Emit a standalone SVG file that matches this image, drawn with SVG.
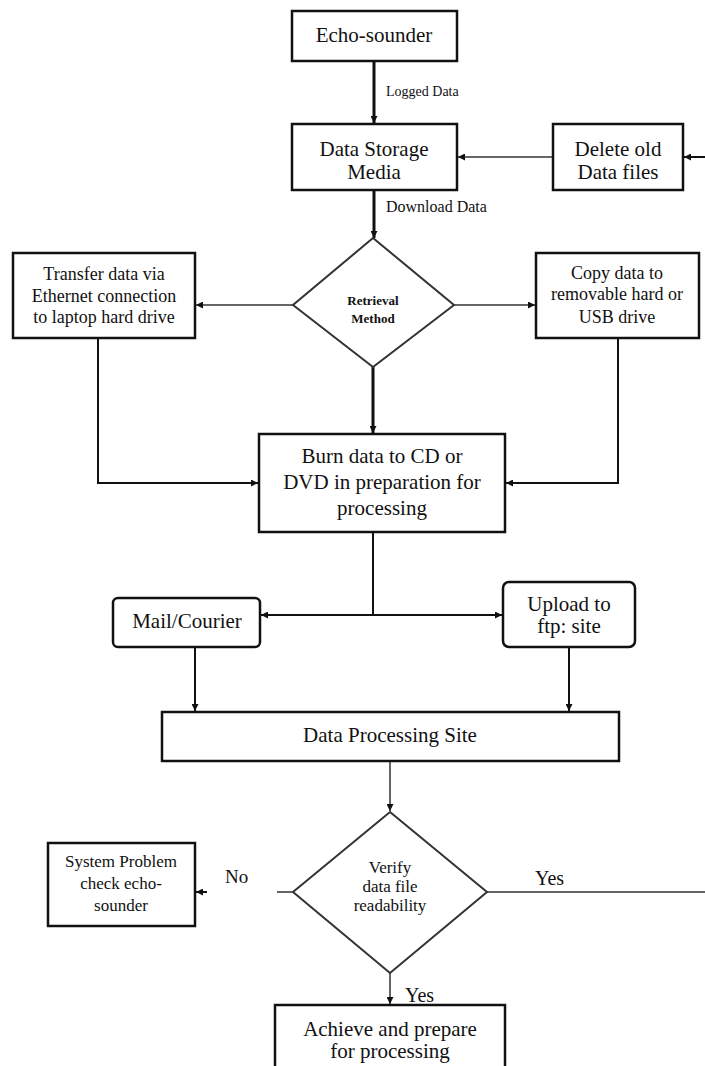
<svg xmlns="http://www.w3.org/2000/svg" width="705" height="1066" viewBox="0 0 705 1066">
<style>
.box{fill:#fff;stroke:#111;stroke-width:2.5}
.dia{fill:#fff;stroke:#333;stroke-width:2}
.t{font-family:'Liberation Serif','DejaVu Serif','Noto Serif',serif;fill:#111;text-anchor:middle}
.l{font-family:'Liberation Serif','DejaVu Serif','Noto Serif',serif;fill:#111}
.c{fill:none;stroke:#111;stroke-width:2}
.ck{fill:none;stroke:#111;stroke-width:3}
.cg{fill:none;stroke:#666;stroke-width:2}
</style>
<defs>
<marker id="ah" viewBox="0 0 10 10" refX="10" refY="5" markerWidth="7" markerHeight="7" markerUnits="userSpaceOnUse" orient="auto"><path d="M0,0 L10,5 L0,10 z" fill="#111"/></marker>
</defs>
<rect width="705" height="1066" fill="#fff"/>
<g id="connectors">
<path class="ck" d="M374,61 V123" marker-end="url(#ah)"/>
<path class="ck" d="M374,190 V238" marker-end="url(#ah)"/>
<path class="cg" d="M553,157 H458" marker-end="url(#ah)"/>
<path class="c" d="M705,157 H684" marker-end="url(#ah)"/>
<path class="cg" d="M293,305 H196" marker-end="url(#ah)"/>
<path class="cg" d="M454,305 H535" marker-end="url(#ah)"/>
<path class="ck" d="M373,367 V433" marker-end="url(#ah)"/>
<path class="c" d="M98,338 V483 H258" marker-end="url(#ah)"/>
<path class="c" d="M618,338 V483 H506" marker-end="url(#ah)"/>
<path class="c" d="M373,532 V615"/>
<path class="c" d="M373,615 H261" marker-end="url(#ah)"/>
<path class="c" d="M373,615 H502" marker-end="url(#ah)"/>
<path class="c" d="M195,647 V711" marker-end="url(#ah)"/>
<path class="c" d="M569,647 V711" marker-end="url(#ah)"/>
<path class="cg" d="M390,761 V811" marker-end="url(#ah)"/>
<path class="cg" d="M293,892 H277"/>
<path class="c" d="M207,892 H196" marker-end="url(#ah)"/>
<path class="cg" d="M487,892 H705"/>
<path class="cg" d="M390,973 V1004" marker-end="url(#ah)"/>
<text class="l" x="386" y="96" font-size="14">Logged Data</text>
<text class="l" x="386" y="212" font-size="16">Download Data</text>
<text class="l" x="225" y="883" font-size="19">No</text>
<text class="l" x="535" y="885" font-size="20">Yes</text>
<text class="l" x="405" y="1002" font-size="20">Yes</text>
</g>
<g id="echo">
<rect class="box" x="292" y="11" width="165" height="50"/>
<text class="t" x="374" y="42" font-size="21">Echo-sounder</text>
</g>
<g id="storage">
<rect class="box" x="292" y="124" width="165" height="66"/>
<text class="t" x="374" y="156" font-size="21">Data Storage</text>
<text class="t" x="374" y="179" font-size="21">Media</text>
</g>
<g id="delete">
<rect class="box" x="553" y="124" width="130" height="66"/>
<text class="t" x="618" y="156" font-size="21">Delete old</text>
<text class="t" x="618" y="179" font-size="21">Data files</text>
</g>
<g id="retrieval">
<polygon class="dia" points="373,238 454,305 373,367 293,305"/>
<text class="t" x="373" y="305" font-size="13" font-weight="bold">Retrieval</text>
<text class="t" x="373" y="323" font-size="13" font-weight="bold">Method</text>
</g>
<g id="transfer">
<rect class="box" x="13" y="253" width="182" height="85"/>
<text class="t" x="104" y="280" font-size="18">Transfer data via</text>
<text class="t" x="104" y="302" font-size="18">Ethernet connection</text>
<text class="t" x="104" y="323" font-size="18">to laptop hard drive</text>
</g>
<g id="copy">
<rect class="box" x="536" y="253" width="163" height="85"/>
<text class="t" x="617" y="279" font-size="18">Copy data to</text>
<text class="t" x="617" y="300" font-size="18">removable hard or</text>
<text class="t" x="617" y="323" font-size="18">USB drive</text>
</g>
<g id="burn">
<rect class="box" x="259" y="434" width="246" height="98"/>
<text class="t" x="382" y="463" font-size="21">Burn data to CD or</text>
<text class="t" x="382" y="489" font-size="21">DVD in preparation for</text>
<text class="t" x="382" y="515" font-size="21">processing</text>
</g>
<g id="mail">
<rect class="box" x="113" y="598" width="147" height="49" rx="5"/>
<text class="t" x="187" y="628" font-size="21">Mail/Courier</text>
</g>
<g id="upload">
<rect class="box" x="503" y="582" width="132" height="65" rx="6"/>
<text class="t" x="569" y="611" font-size="21">Upload to</text>
<text class="t" x="569" y="633" font-size="21">ftp: site</text>
</g>
<g id="processing">
<rect class="box" x="162" y="712" width="457" height="49"/>
<text class="t" x="390" y="742" font-size="21">Data Processing Site</text>
</g>
<g id="verify">
<polygon class="dia" points="390,812 487,892 390,973 293,892"/>
<text class="t" x="390" y="873" font-size="17">Verify</text>
<text class="t" x="390" y="892" font-size="17">data file</text>
<text class="t" x="390" y="911" font-size="17">readability</text>
</g>
<g id="system">
<rect class="box" x="48" y="843" width="147" height="83"/>
<text class="t" x="121" y="867" font-size="17">System Problem</text>
<text class="t" x="121" y="889" font-size="17">check echo-</text>
<text class="t" x="121" y="911" font-size="17">sounder</text>
</g>
<g id="achieve">
<rect class="box" x="275" y="1005" width="230" height="70"/>
<text class="t" x="390" y="1036" font-size="21">Achieve and prepare</text>
<text class="t" x="390" y="1058" font-size="21">for processing</text>
</g>
</svg>
